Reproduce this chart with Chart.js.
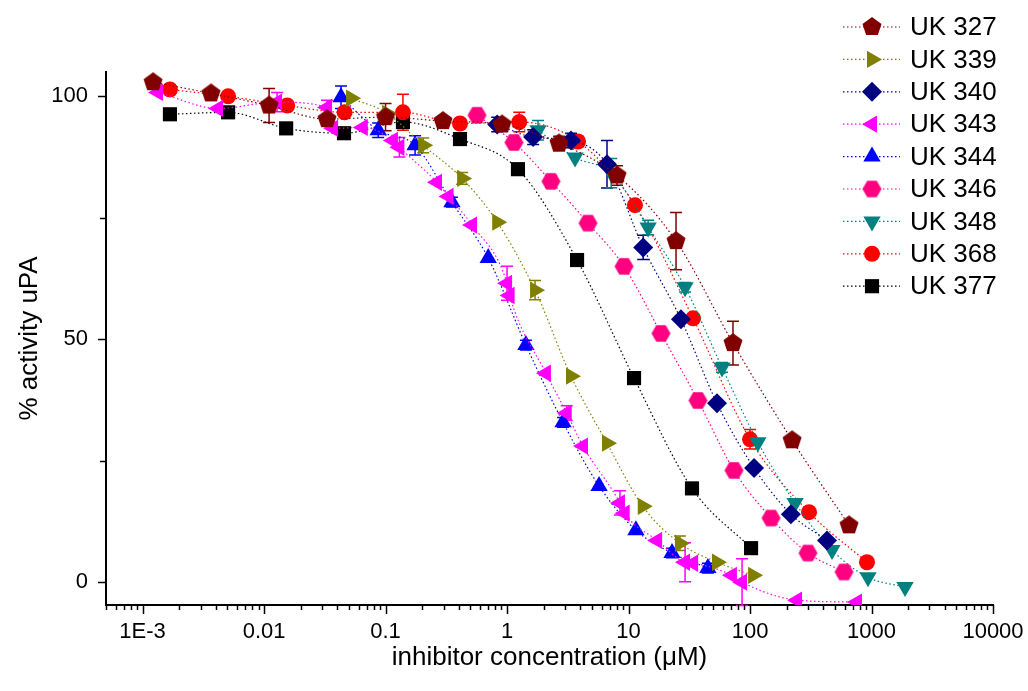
<!DOCTYPE html>
<html>
<head>
<meta charset="utf-8">
<script src="https://cdn.jsdelivr.net/npm/chart.js@4.4.0/dist/chart.umd.min.js"></script>
<style>
  html, body { margin: 0; padding: 0; background: #fff; }
</style>
</head>
<body>
<canvas id="chart1" width="1028" height="691"></canvas>
<script>
// concentrations (uM), % activity and error half-widths
const uk327X = [0.00122, 0.00366, 0.011, 0.033, 0.1, 0.297, 0.91, 2.68, 8.04, 24.6, 72.4, 222, 653];
const uk327Y = [102.9, 100.6, 98.1, 95.3, 95.7, 94.9, 94.2, 90.3, 83.7, 70.2, 49.2, 29.2, 11.7];
const uk327E = [0, 0, 3.5, 0, 2.8, 0, 0, 1.5, 2, 5.9, 4.5, 0, 0];

const uk339X = [0.052, 0.103, 0.204, 0.427, 0.83, 1.70, 3.36, 6.65, 13.1, 26.5, 53.5, 106];
const uk339Y = [99.6, 96.5, 89.9, 83.1, 74.1, 60.1, 42.4, 28.6, 15.6, 8.0, 4.1, 1.4];
const uk339E = [0, 0, 1.5, 1.2, 0, 2, 0, 0, 0, 1.5, 0, 0];

const uk340X = [0.83, 1.64, 3.36, 6.65, 13.2, 27, 53.5, 108, 217, 430];
const uk340Y = [94.2, 91.6, 90.9, 86.0, 68.9, 54.1, 36.8, 23.5, 14.0, 8.6];
const uk340E = [1.5, 1.5, 1.5, 4.9, 2.5, 0, 0, 0, 0, 0];

const uk343X = [0.00134, 0.00418, 0.0128, 0.033, 0.037, 0.065, 0.115, 0.13, 0.265, 0.33, 0.515, 1.0, 1.05, 2.09, 3.1, 4.22, 8.5, 9.3, 17.2, 29.2, 34, 71, 86, 244, 760];
const uk343Y = [100.8, 97.5, 98.8, 97.7, 93.4, 93.6, 90.9, 89.5, 82.3, 79.4, 73.5, 61.5, 59.0, 43.0, 34.8, 28.0, 16.3, 14.2, 8.6, 4.1, 3.9, 1.4, 0.0, -3.7, -4.1];
const uk343E = [0, 0, 2, 1.5, 0, 0, 0, 2, 0, 0, 0, 3.5, 0, 0, 1.5, 0, 2.5, 0, 0, 4, 0, 0, 4.8, 0, 0];

const uk344X = [0.043, 0.087, 0.175, 0.352, 0.70, 1.43, 2.89, 5.72, 11.5, 22.8, 45];
const uk344Y = [99.8, 93.0, 89.9, 78.2, 66.7, 48.8, 32.9, 19.8, 10.7, 6.0, 2.9];
const uk344E = [2.3, 1.5, 2, 1, 0, 1, 1, 0, 0, 1, 1];

const uk346X = [0.566, 1.14, 2.30, 4.64, 9.18, 18.5, 37.3, 73.8, 149, 300, 594];
const uk346Y = [96.1, 90.5, 82.5, 73.9, 65.0, 51.2, 37.4, 23.0, 13.2, 6.0, 2.1];
const uk346E = [0, 0, 1.2, 0, 0, 0, 0, 0, 0, 0, 0];

const uk348X = [1.80, 3.63, 7.2, 14.5, 29.2, 58.8, 116, 235, 473, 936, 1888];
const uk348Y = [93.0, 87.4, 84.2, 73.0, 60.7, 44.2, 28.8, 16.3, 6.6, 1.0, -1.0];
const uk348E = [2, 0, 3, 1.5, 1, 1, 0, 0, 0, 0, 0];

const uk368X = [0.00168, 0.00506, 0.0155, 0.046, 0.139, 0.41, 1.26, 3.84, 11.3, 34, 100, 306, 918];
const uk368Y = [101.4, 100.0, 98.1, 96.7, 96.7, 94.4, 94.7, 90.7, 77.6, 54.3, 29.4, 14.4, 4.1];
const uk368E = [0, 0, 0, 0, 3.7, 0, 2, 1, 0, 0, 2, 0, 0];

const uk377X = [0.00168, 0.00506, 0.0152, 0.0455, 0.139, 0.41, 1.23, 3.77, 11.1, 33.3, 102];
const uk377Y = [96.3, 96.7, 93.4, 92.4, 94.7, 91.2, 85.0, 66.3, 42.0, 19.3, 7.0];
const uk377E = [0, 0, 0, 0, 0, 0, 0, 0, 0, 0, 0];

const xTickValues = [0.001, 0.01, 0.1, 1, 10, 100, 1000, 10000];
const xTickLabels = ['1E-3', '0.01', '0.1', '1', '10', '100', '1000', '10000'];
const yTickValues = [0, 50, 100];

const FONT = '"Liberation Sans", Arial, sans-serif';
Chart.defaults.font.family = FONT;
Chart.defaults.color = '#000';

function polyMarker(sides, r, startDeg, color) {
  const c = document.createElement('canvas');
  c.width = c.height = Math.ceil(2 * r + 2);
  const g = c.getContext('2d');
  g.fillStyle = color;
  g.beginPath();
  for (let i = 0; i < sides; i++) {
    const a = (startDeg + i * 360 / sides) * Math.PI / 180;
    const px = c.width / 2 + r * Math.cos(a), py = c.height / 2 + r * Math.sin(a);
    if (i === 0) g.moveTo(px, py); else g.lineTo(px, py);
  }
  g.closePath();
  g.fill();
  return c;
}

function makeSet(label, xs, ys, errs, color, style, rot, radius) {
  return {
    label: label,
    data: xs.map((x, i) => ({ x: x, y: ys[i] })),
    err: errs,
    borderColor: color,
    backgroundColor: color,
    pointBackgroundColor: color,
    pointBorderColor: color,
    pointBorderWidth: 0,
    pointStyle: style,
    pointRotation: rot,
    pointRadius: radius,
    pointHoverRadius: radius,
    showLine: true,
    borderWidth: 1.2,
    borderDash: [1.5, 2.5],
    cubicInterpolationMode: 'monotone',
    fill: false
  };
}

const datasets = [
  makeSet('UK 327', uk327X, uk327Y, uk327E, '#800000', polyMarker(5, 10, -90, '#800000'), 0, 10),
  makeSet('UK 339', uk339X, uk339Y, uk339E, '#808000', 'triangle', 90, 10),
  makeSet('UK 340', uk340X, uk340Y, uk340E, '#000080', 'rectRot', 0, 10),
  makeSet('UK 343', uk343X, uk343Y, uk343E, '#FF00FF', 'triangle', 270, 10),
  makeSet('UK 344', uk344X, uk344Y, uk344E, '#0000FF', 'triangle', 0, 10),
  makeSet('UK 346', uk346X, uk346Y, uk346E, '#FF0080', polyMarker(6, 9.5, 0, '#FF0080'), 0, 10),
  makeSet('UK 348', uk348X, uk348Y, uk348E, '#008080', 'triangle', 180, 10),
  makeSet('UK 368', uk368X, uk368Y, uk368E, '#FF0000', 'circle', 0, 8),
  makeSet('UK 377', uk377X, uk377Y, uk377E, '#000000', 'rect', 0, 10)
];

// error bars behind the markers
const errorBars = {
  id: 'errorBars',
  beforeDatasetsDraw(chart) {
    const ctx = chart.ctx, xs = chart.scales.x, ys = chart.scales.y;
    ctx.save();
    ctx.lineWidth = 1.5;
    chart.data.datasets.forEach(ds => {
      ctx.strokeStyle = ds.borderColor;
      ds.err.forEach((e, j) => {
        if (!e) return;
        const p = ds.data[j];
        const px = xs.getPixelForValue(p.x);
        const y1 = ys.getPixelForValue(p.y + e), y2 = ys.getPixelForValue(p.y - e);
        ctx.beginPath();
        ctx.moveTo(px, y1); ctx.lineTo(px, y2);
        ctx.moveTo(px - 6, y1); ctx.lineTo(px + 6, y1);
        ctx.moveTo(px - 6, y2); ctx.lineTo(px + 6, y2);
        ctx.stroke();
      });
    });
    ctx.restore();
  }
};

// outward tick marks (major + minor)
const tickMarks = {
  id: 'tickMarks',
  afterDraw(chart) {
    const ctx = chart.ctx, xs = chart.scales.x, ys = chart.scales.y;
    const a = chart.chartArea;
    ctx.save();
    ctx.strokeStyle = '#000';
    ctx.lineWidth = 1.5;
    ctx.beginPath();
    for (let d = -4; d <= 4; d++) {
      for (let m = 1; m <= 9; m++) {
        const v = m * Math.pow(10, d);
        if (v < xs.min * 0.999 || v > xs.max * 1.001) continue;
        const px = Math.round(xs.getPixelForValue(v)) + 0.5;
        const len = m === 1 ? 9 : 5;
        ctx.moveTo(px, a.bottom); ctx.lineTo(px, a.bottom + len);
      }
    }
    [0, 25, 50, 75, 100].forEach(v => {
      const py = Math.round(ys.getPixelForValue(v)) + 0.5;
      const len = v % 50 === 0 ? 8 : 6;
      ctx.moveTo(a.left - len, py); ctx.lineTo(a.left, py);
    });
    ctx.stroke();
    ctx.restore();
  }
};

// legend top right: dotted line + marker + label
const sideLegend = {
  id: 'sideLegend',
  afterDraw(chart) {
    const ctx = chart.ctx;
    ctx.save();
    chart.data.datasets.forEach((ds, i) => {
      const y = 27 + i * 32.4;
      ctx.strokeStyle = ds.borderColor;
      ctx.lineWidth = 1.2;
      ctx.setLineDash([1.5, 2.5]);
      ctx.beginPath();
      ctx.moveTo(843, y); ctx.lineTo(900, y);
      ctx.stroke();
      ctx.setLineDash([]);
      ctx.fillStyle = ds.borderColor;
      Chart.helpers.drawPoint(ctx, { pointStyle: ds.pointStyle, rotation: ds.pointRotation, radius: ds.pointRadius, borderWidth: 0 }, 872, y);
      ctx.fillStyle = '#000';
      ctx.font = '26px ' + FONT;
      ctx.textBaseline = 'middle';
      ctx.textAlign = 'left';
      ctx.fillText(ds.label, 910, y + 1);
    });
    ctx.restore();
  }
};

const graf = new Chart(document.getElementById('chart1'), {
  type: 'scatter',
  data: { datasets: datasets },
  options: {
    responsive: false,
    animation: false,
    layout: { padding: { left: 0, right: 35, top: 72, bottom: 0 } },
    plugins: { legend: { display: false }, tooltip: { enabled: false } },
    scales: {
      x: {
        type: 'logarithmic',
        position: 'bottom',
        min: 5e-4,
        max: 1e4,
        afterBuildTicks: s => { s.ticks = xTickValues.map(v => ({ value: v })); },
        afterFit: s => { s.height = 86; s.paddingLeft = 0; s.paddingRight = 0; },
        ticks: {
          callback: (v, i) => xTickLabels[i],
          font: { size: 22 },
          color: '#000',
          padding: 14,
          maxRotation: 0,
          autoSkip: false
        },
        grid: { display: false, drawTicks: false },
        border: { display: true, color: '#000', width: 2 },
        title: {
          display: true,
          text: 'inhibitor concentration (\u03bcM)',
          font: { size: 26 },
          color: '#000',
          padding: { top: 0, bottom: 18 }
        }
      },
      y: {
        min: -4.7,
        max: 105,
        afterBuildTicks: s => { s.ticks = yTickValues.map(v => ({ value: v })); },
        afterFit: s => { s.width = 106; s.paddingTop = 0; s.paddingBottom = 0; },
        ticks: { font: { size: 22 }, color: '#000', padding: 18 },
        grid: { display: false, drawTicks: false },
        border: { display: true, color: '#000', width: 2 },
        title: {
          display: true,
          text: '% activity uPA',
          font: { size: 26 },
          color: '#000',
          padding: { top: 14, bottom: 0 }
        }
      }
    }
  },
  plugins: [errorBars, tickMarks, sideLegend]
});
</script>
</body>
</html>
